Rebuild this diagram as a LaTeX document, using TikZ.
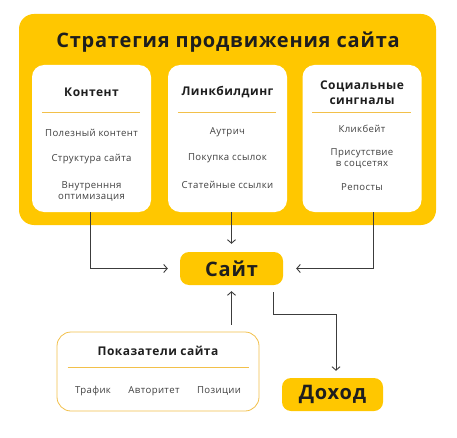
\documentclass[tikz,border=0pt]{standalone}
\usepackage{fontspec}
\setmainfont{Open Sans}[LetterSpace=4]
\usetikzlibrary{
  positioning,
  arrows.meta
}
\definecolor{brand}{HTML}{FFC700}
\definecolor{rulecol}{HTML}{F2C04A}
\definecolor{ink}{HTML}{1E1E1E}
\definecolor{wirecol}{HTML}{3C3C3C}
\tikzset{
  >={Straight Barb[length=3.5pt,width=8pt]},
  every node/.style={text=ink, inner sep=0pt},
  block/.style={fill=brand, rounded corners=15pt, minimum width=417pt, minimum height=211pt},
  card/.style={fill=white, rounded corners=12pt, minimum width=119pt, minimum height=147pt},
  head/.style={font=\bfseries\fontsize{12}{14.5}\selectfont, align=center},
  item/.style={font=\fontsize{9.6}{11}\selectfont, text=ink!85, align=center},
  sep/.style={draw=rulecol, line width=0.8pt},
  badge/.style={fill=brand, rounded corners=9pt, font=\bfseries\fontsize{20}{24}\selectfont},
  wire/.style={draw=wirecol, line width=0.9pt, ->}
}

\begin{document}
\begin{tikzpicture}[x=1pt, y=1pt]
    \useasboundingbox (0,0) rectangle (457,437);

    % strategy block
    \node[block] (strategy) at (227.5,317.5) {};
    \node[font=\bfseries\fontsize{20}{24}\selectfont] (title) at (228,395) {Стратегия продвижения сайта};

    \node[card] (content) at (91.5,298.5) {};
    \node[card] (links) at (227.5,298.5) {};
    \node[card] (social) at (362,298.5) {};

    \foreach \c in {content,links,social}
      \draw[sep] ([xshift=10pt,yshift=-48pt]\c.north west) -- ([xshift=-11pt,yshift=-48pt]\c.north east);

    \node[head] (contenthead) at (91.5,345) {Контент};
    \node[item] (useful) at (91.5,304) {Полезный контент};
    \node[item] (structure) at (91.5,278) {Структура сайта};
    \node[item] (inner) at (91.5,245.5) {Внутренння\\оптимизация};

    \node[head] (linkshead) at (227.5,345) {Линкбилдинг};
    \node[item] (outreach) at (227.5,305) {Аутрич};
    \node[item] (buying) at (227.5,279) {Покупка ссылок};
    \node[item] (articles) at (227.5,252) {Статейные ссылки};

    \node[head] (socialhead) at (362,344.5) {Социальные\\сингналы};
    \node[item] (clickbait) at (362,308) {Кликбейт};
    \node[item] (presence) at (362,278.5) {Присутствие\\в соцсетях};
    \node[item] (reposts) at (362,250) {Репосты};

    % site and income
    \node[badge, minimum width=103pt, minimum height=33pt] (site) at (231.5,168.5) {Сайт};
    \node[badge, minimum width=101pt, minimum height=33pt] (income) at (332.5,42.5) {Доход};

    % site metrics
    \node[draw=rulecol, line width=0.8pt, fill=white, rounded corners=14pt,
          minimum width=202pt, minimum height=79pt] (metrics) at (158,65.5) {};
    \node[font=\bfseries\fontsize{12}{14}\selectfont] (metricshead) at (158,86) {Показатели сайта};
    \draw[sep] ([xshift=11pt,yshift=-36pt]metrics.north west) -- ([xshift=-10pt,yshift=-36pt]metrics.north east);
    \node[item] (traffic) at (93,46) {Трафик};
    \node[item] (authority) at (154,46) {Авторитет};
    \node[item] (positions) at (219,46) {Позиции};

    % connectors
    \draw[wire, shorten >=12pt] ([xshift=-1.5pt]content.south) |- (site.west);
    \draw[wire, shorten >=8pt] (links.south -| site.north) -- (site.north);
    \draw[wire, shorten >=13pt] ([xshift=11pt]social.south) |- (site.east);
    \draw[wire, shorten <=7pt, shorten >=6pt] (metrics.north -| site.south) -- (site.south);
    \draw[wire, shorten <=7pt, shorten >=7pt] ([xshift=-10pt]site.south east) -- ++(0,-29) -| ([xshift=3.5pt]income.north);
\end{tikzpicture}
\end{document}
